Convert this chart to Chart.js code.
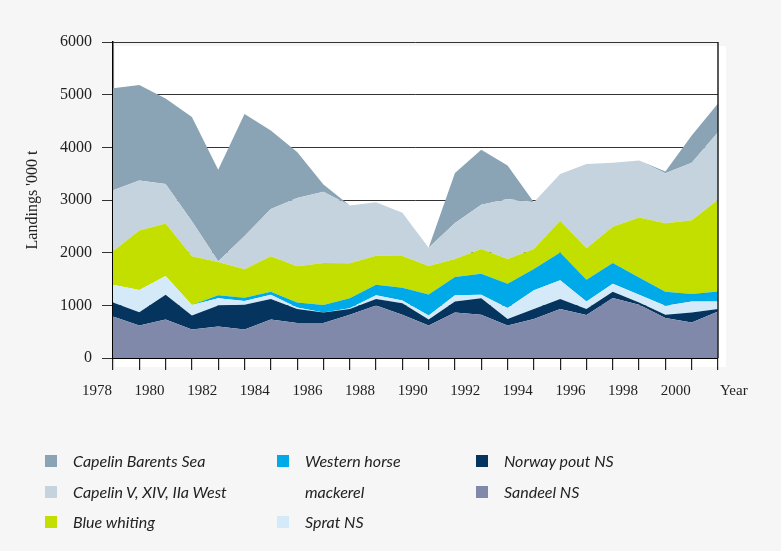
<!DOCTYPE html>
<html>
<head>
<meta charset="utf-8">
<script src="https://cdn.jsdelivr.net/npm/chart.js@4.4.1/dist/chart.umd.min.js"></script>
<style>
body{margin:0;background:#f5f6f5;}
#wrap{position:relative;width:781px;height:551px;}
#chart{position:absolute;left:0;top:0;}
.col{position:absolute;top:446px;}
.item{display:flex;align-items:flex-start;font-family:Lato,"Noto Sans",sans-serif;font-style:italic;font-size:16px;line-height:30.5px;color:#222;}
.box{width:12px;height:12px;margin-top:9px;margin-right:16px;flex:none;}
</style>
</head>
<body>
<div id="wrap">
<canvas id="chart" width="781" height="551"></canvas>
<div id="legend"></div>
</div>
<script>

/* DATA ('000 t) */

const years=["1978","1979","1980","1981","1982","1983","1984","1985","1986","1987","1988","1989","1990","1991","1992","1993","1994","1995","1996","1997","1998","1999","2000","2001"];

const sandeel=[790,615,730,540,600,540,730,665,665,820,995,820,615,865,820,615,740,930,815,1140,1010,760,675,885];
const norwayPout=[265,255,470,265,395,470,390,265,200,110,125,220,115,210,315,125,190,190,115,120,45,60,190,45];
const sprat=[335,420,355,200,140,70,80,30,0,15,70,50,75,115,65,210,355,355,145,150,145,170,210,145];
const horseMackerel=[0,0,0,0,55,65,60,95,140,190,200,245,400,350,400,460,405,530,410,395,330,270,140,190];
const blueWhiting=[635,1130,1000,925,635,540,670,685,800,665,550,600,540,340,470,470,380,600,600,685,1140,1300,1400,1740];
const capelinWest=[1160,950,750,665,10,630,900,1300,1350,1095,1015,825,350,685,840,1140,885,890,1600,1215,1080,950,1090,1280];
const capelinBarents=[1935,1815,1620,1980,1740,2320,1490,870,140,0,0,0,0,950,1045,635,0,0,0,0,0,30,520,545];

const yTicks=[0,1000,2000,3000,4000,5000,6000];

/* legend columns (dataset index) */
const legendCols=[[6,5,4],[3,2],[1,0]];
const legendX=[45,277,476];
const legendW=[220,140,200];


function area(label,data,color,first){
return {
label:label,
data:data,
backgroundColor:color,
borderWidth:0,
pointRadius:0,
tension:0,
fill:first?"origin":"-1"
};
}

const plotBg={
id:"plotBg",
beforeDraw(c){
const a=c.chartArea;
c.ctx.save();
c.ctx.fillStyle="#ffffff";
c.ctx.fillRect(a.left+2,a.top+4,a.width+6,a.height+5);
c.ctx.restore();
}
};

const frame={
id:"frame",
afterDraw(c){
const a=c.chartArea;
const ctx=c.ctx;
ctx.save();
ctx.strokeStyle="#222";
ctx.lineWidth=1.5;
ctx.beginPath();
ctx.moveTo(a.right,a.top);
ctx.lineTo(a.right,a.bottom);
ctx.stroke();
ctx.fillStyle="#222";
ctx.font="15px 'Liberation Serif'";
ctx.textAlign="left";
ctx.textBaseline="middle";
ctx.fillText("Year",a.right+2,a.bottom+33);
ctx.restore();
}
};

function buildLegend(chart){
let html="";
legendCols.forEach(function(col,i){
html+='<div class="col" style="left:'+legendX[i]+'px;width:'+legendW[i]+'px">';
col.forEach(function(idx){
let ds=chart.data.datasets[idx];
html+='<div class="item"><span class="box" style="background:'+ds.backgroundColor+'"></span><span>'+ds.label+'</span></div>';
});
html+='</div>';
});
document.getElementById("legend").innerHTML=html;
}


window.onload=function(){

const ctx=document.getElementById("chart").getContext("2d");

const chart=new Chart(ctx,{
type:"line",
data:{
labels:years,
datasets:[
area("Sandeel NS",sandeel,"#8089aa",true),
area("Norway pout NS",norwayPout,"#05355f"),
area("Sprat NS",sprat,"#d4eaf9"),
area("Western horse mackerel",horseMackerel,"#00a9e7"),
area("Blue whiting",blueWhiting,"#c2df00"),
area("Capelin V, XIV, IIa West",capelinWest,"#c4d3de"),
area("Capelin Barents Sea",capelinBarents,"#8ba4b5")
]
},
options:{
responsive:false,
animation:false,
layout:{padding:{left:19,right:63,top:42,bottom:153}},
plugins:{legend:{display:false},tooltip:{enabled:false}},
scales:{
x:{
offset:false,
grid:{drawOnChartArea:false,drawTicks:true,tickLength:12,color:"#222",lineWidth:1.2},
border:{color:"#000",width:2},
ticks:{
autoSkip:false,maxRotation:0,padding:12,labelOffset:-16,color:"#222",
font:{family:"Liberation Serif",size:15},
callback:function(v,i){return i%2===0?years[i]:"";}
},
afterFit:function(s){s.height=40;}
},
y:{
stacked:true,
min:yTicks[0],
max:yTicks[yTicks.length-1],
afterBuildTicks:function(s){s.ticks=yTicks.map(function(v){return {value:v};});},
grid:{color:"#333",lineWidth:1,tickLength:11},
border:{color:"#000",width:1.5},
ticks:{padding:10,color:"#222",font:{family:"Liberation Serif",size:16},
callback:function(v){return String(v);}},
title:{display:true,text:"Landings '000 t",color:"#222",font:{family:"Liberation Serif",size:16}},
afterFit:function(s){s.width=94;}
}
}
},
plugins:[plotBg,frame]
});

buildLegend(chart);

};

</script>
</body>
</html>
